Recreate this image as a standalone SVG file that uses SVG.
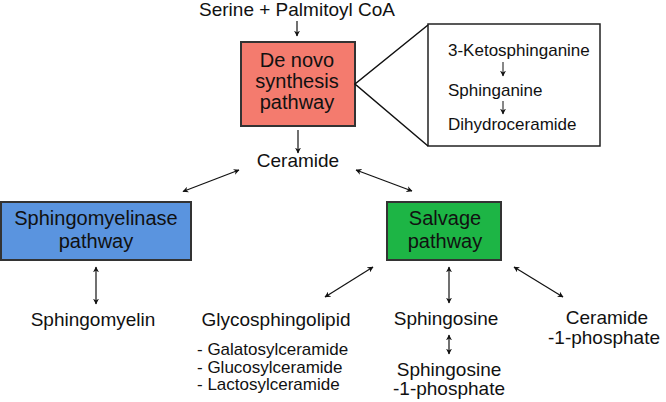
<svg xmlns="http://www.w3.org/2000/svg" width="666" height="402" viewBox="0 0 666 402">
<defs>
<marker id="ah" viewBox="0 0 10 10" refX="9" refY="5" markerWidth="6" markerHeight="6" orient="auto-start-reverse" markerUnits="userSpaceOnUse">
<path d="M0,0 L10,5 L0,10 L3,5 Z" fill="#111"/>
</marker>
</defs>
<style>
text{font-family:"Liberation Sans",Arial,Helvetica,sans-serif;fill:#111}
.lbl{font-size:19px;text-anchor:middle}
.box{stroke:#333;stroke-width:2}
.bt{font-size:20px;text-anchor:middle}
.small{font-size:17px}
.list{font-size:17px}
.c{stroke:#111;stroke-width:1.2;fill:none}
.s{marker-end:url(#ah)}
.d{marker-start:url(#ah);marker-end:url(#ah)}
</style>
<rect width="666" height="402" fill="#fff"/>
<g id="serine"><text class="lbl" x="297" y="16">Serine + Palmitoyl CoA</text></g>
<g id="denovo">
<rect class="box" x="241" y="42" width="114" height="84" fill="#F47B6E"/>
<text class="bt" x="297" y="67">De novo</text>
<text class="bt" x="297" y="88">synthesis</text>
<text class="bt" x="297" y="109">pathway</text>
</g>
<g id="denovo-detail">
<rect x="428" y="24" width="172" height="122" fill="#fff" stroke="#222" stroke-width="1.5"/>
<text class="small" x="448" y="56">3-Ketosphinganine</text>
<text class="small" x="448" y="96">Sphinganine</text>
<text class="small" x="448" y="130">Dihydroceramide</text>
</g>
<g id="ceramide"><text class="lbl" x="298" y="167">Ceramide</text></g>
<g id="sphingomyelinase">
<rect class="box" x="1" y="202" width="190" height="58" fill="#5A94DF"/>
<text class="bt" x="96" y="225">Sphingomyelinase</text>
<text class="bt" x="96" y="248">pathway</text>
</g>
<g id="salvage">
<rect class="box" x="387" y="202" width="114" height="58" fill="#1DB545"/>
<text class="bt" x="445" y="225">Salvage</text>
<text class="bt" x="445" y="248">pathway</text>
</g>
<g id="sphingomyelin"><text class="lbl" x="93" y="326">Sphingomyelin</text></g>
<g id="glycosphingolipid">
<text class="lbl" x="276" y="326">Glycosphingolipid</text>
<text class="list" x="197" y="355">- Galatosylceramide</text>
<text class="list" x="197" y="372.5">- Glucosylceramide</text>
<text class="list" x="197" y="390">- Lactosylceramide</text>
</g>
<g id="sphingosine"><text class="lbl" x="446" y="325">Sphingosine</text></g>
<g id="s1p">
<text class="lbl" x="449" y="376">Sphingosine</text>
<text class="lbl" x="449" y="395">-1-phosphate</text>
</g>
<g id="c1p">
<text class="lbl" x="607" y="324">Ceramide</text>
<text class="lbl" x="604" y="344">-1-phosphate</text>
</g>
<g id="connectors">
<line class="c s" x1="297" y1="21" x2="297" y2="36"/>
<line class="c s" x1="298" y1="130" x2="298" y2="153"/>
<line class="c d" x1="183" y1="191.5" x2="239" y2="170"/>
<line class="c d" x1="356" y1="170" x2="412" y2="191"/>
<line class="c d" x1="96" y1="267" x2="96" y2="304"/>
<line class="c d" x1="373" y1="267" x2="325" y2="297"/>
<line class="c d" x1="449" y1="267" x2="449" y2="303"/>
<line class="c d" x1="514" y1="267" x2="563" y2="297"/>
<line class="c d" x1="449" y1="335" x2="449" y2="354"/>
<polyline class="c" points="428,25 355,84 428,146" style="stroke-width:1.5"/>
<line class="c s" x1="503" y1="62" x2="503" y2="76" style="stroke-width:1"/>
<line class="c s" x1="503" y1="101" x2="503" y2="114" style="stroke-width:1"/>
</g>
</svg>
